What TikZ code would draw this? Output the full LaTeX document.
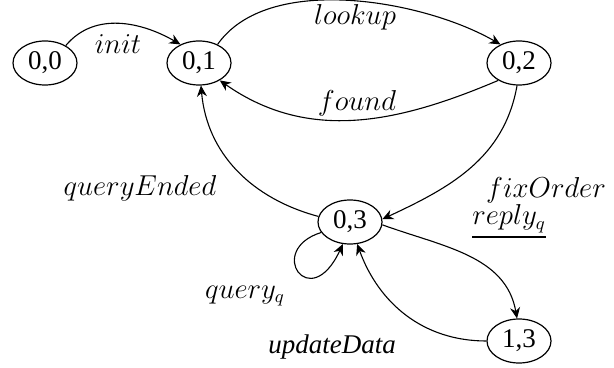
\documentclass[tikz,border=0pt]{standalone}
\usepackage{fontspec}
\setmainfont{Liberation Serif}
\usetikzlibrary{arrows.meta,shapes.geometric}
\tikzset{
  state/.style={ellipse,draw,line width=0.6pt,minimum width=32pt,minimum height=22pt,inner sep=0pt,font=\fontsize{13.5}{16}\selectfont},
  lbl/.style={inner sep=0pt,font=\fontsize{13.5}{16}\selectfont},
  edge/.style={line width=0.55pt,-{Stealth[length=5.5pt,width=5pt,inset=1.8pt]}}
}
\begin{document}
\begin{tikzpicture}[x=0.5pt,y=0.5pt]
\useasboundingbox (0,0) rectangle (614,-368);
\node[state] (n00) at (45,-63) {0,0};
\node[state] (n01) at (199,-63) {0,1};
\node[state] (n02) at (519,-63) {0,2};
\node[state] (n03) at (350,-222) {0,3};
\node[state] (n13) at (519,-341) {1,3};

\draw[edge] (n00.40) to[out=50,in=150] (n01.135);
\draw[edge] (n01.45) to[out=55,in=150,looseness=0.8] (n02.135);
\draw[edge] (n02.220) to[out=203,in=-35] (n01.-40);
\draw[edge] (n02.-95) to[out=-100,in=25] (n03.5);
\draw[edge] (n03.170) to[out=165,in=-85] (n01.-85);
\draw[edge] (n03.200) .. controls (265,-250) and (310,-315) .. (n03.-108);
\draw[edge] (n03.-5) to[out=-20,in=100] (n13.95);
\draw[edge] (n13.west) to[out=180,in=-70] (n03.-72);

\node[lbl] (linit) at (118,-44) {$init$};
\node[lbl] (llook) at (355,-17) {$lookup$};
\node[lbl] (lfound) at (357,-103) {$found$};
\node[lbl] (lqe) at (140,-188) {$queryEnded$};
\node[lbl,anchor=base] (lfix) at (546,-198) {$fixOrder$};
\node[lbl,anchor=base west] (lrep) at (472,-225) {$reply_q$};
\draw[line width=1pt] ([yshift=-6pt]lrep.base west) -- ([yshift=-6pt]lrep.base east);
\node[lbl] (lqq) at (245,-296) {$query_q$};
\node[lbl] (lud) at (332,-347) {\textit{updateData}};
\end{tikzpicture}
\end{document}
